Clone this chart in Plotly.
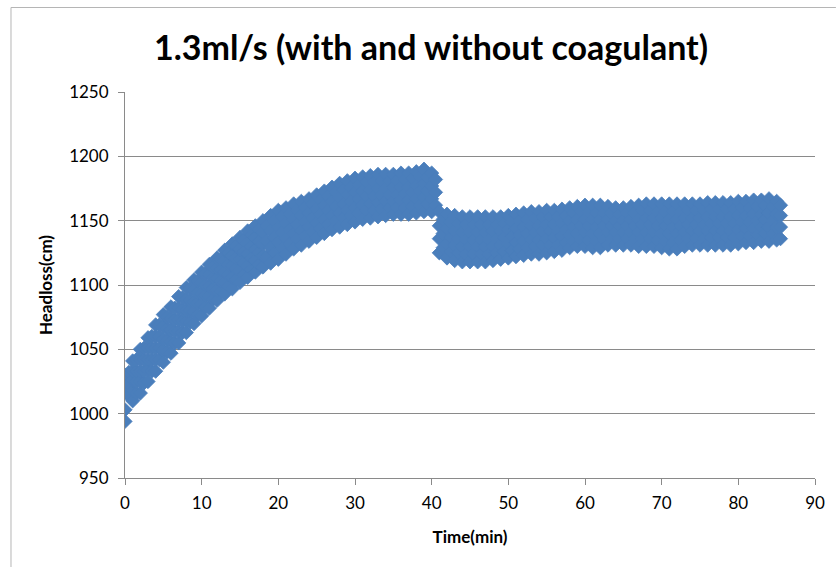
import plotly.graph_objects as go

# ---- data ----
# first part of the run (before the step change at ~40 min)
time_part1 = [0, 0.5, 1, 1.5, 2, 2.5, 3, 3.5, 4, 4.5, 5, 5.5, 6, 6.5, 7, 7.5, 8, 8.5, 9, 9.5,
              10, 10.5, 11, 11.5, 12, 12.5, 13, 13.5, 14, 14.5, 15, 15.5, 16, 16.5, 17, 17.5,
              18, 18.5, 19, 19.5, 20, 20.5, 21, 21.5, 22, 22.5, 23, 23.5, 24, 24.5, 25, 25.5,
              26, 26.5, 27, 27.5, 28, 28.5, 29, 29.5, 30, 30.5, 31, 31.5, 32, 32.5, 33, 33.5,
              34, 34.5, 35, 35.5, 36, 36.5, 37, 37.5, 38, 38.5, 39, 39.5, 40, 40.5]
headloss_part1 = [
    [994, 1003, 1017, 1030], [1014, 1023, 1032],
    [1010, 1018, 1026, 1033, 1041], [1016, 1025, 1033, 1042],
    [1016, 1025, 1033, 1042, 1050], [1024, 1033, 1042, 1051],
    [1025, 1034, 1042, 1051, 1059], [1033, 1042, 1051, 1060],
    [1033, 1042, 1051, 1060, 1069], [1042, 1051, 1060, 1069],
    [1040, 1049, 1058, 1068, 1077], [1048, 1057, 1066, 1075],
    [1047, 1056, 1065, 1074, 1083], [1055, 1064, 1073, 1082],
    [1055, 1064, 1073, 1082, 1091], [1063, 1072, 1081, 1090],
    [1063, 1072, 1080, 1089, 1098], [1071, 1080, 1088, 1097],
    [1070, 1079, 1087, 1096, 1104], [1077, 1086, 1094, 1103],
    [1076, 1085, 1093, 1102, 1110], [1083, 1092, 1100, 1109],
    [1082, 1091, 1099, 1108, 1116], [1089, 1097, 1106, 1114],
    [1088, 1096, 1105, 1113, 1121], [1095, 1103, 1112, 1120],
    [1093, 1102, 1110, 1119, 1127], [1099, 1108, 1116, 1125],
    [1097, 1106, 1115, 1123, 1132], [1104, 1113, 1121, 1130],
    [1102, 1111, 1120, 1128, 1137], [1108, 1117, 1126, 1135],
    [1106, 1115, 1124, 1133, 1142], [1112, 1121, 1130, 1139],
    [1110, 1119, 1128, 1137, 1146], [1116, 1125, 1134, 1143],
    [1114, 1123, 1132, 1141, 1150], [1122, 1134, 1146],
    [1117, 1129, 1142, 1154], [1125, 1137, 1150],
    [1120, 1133, 1145, 1158], [1128, 1141, 1153],
    [1124, 1136, 1148, 1160], [1132, 1143, 1155],
    [1128, 1140, 1151, 1163], [1136, 1147, 1158],
    [1131, 1142, 1154, 1165], [1138, 1149, 1160],
    [1134, 1145, 1156, 1167], [1141, 1152, 1163],
    [1137, 1148, 1159, 1170], [1144, 1155, 1166],
    [1140, 1151, 1162, 1173], [1147, 1158, 1169],
    [1143, 1154, 1165, 1176], [1150, 1161, 1172],
    [1145, 1156, 1168, 1179], [1152, 1163, 1174],
    [1147, 1158, 1170, 1181], [1154, 1165, 1176],
    [1149, 1160, 1172, 1183], [1156, 1167, 1178],
    [1151, 1162, 1173, 1184], [1158, 1169, 1180],
    [1152, 1163, 1174, 1185], [1158, 1169, 1180],
    [1153, 1164, 1175, 1186], [1159, 1170, 1181],
    [1154, 1165, 1175, 1186], [1160, 1170, 1181],
    [1155, 1165, 1176, 1186], [1160, 1170, 1181],
    [1155, 1166, 1176, 1187], [1160, 1171, 1182],
    [1155, 1166, 1176, 1187], [1161, 1172, 1183],
    [1156, 1167, 1177, 1188], [1162, 1173, 1184],
    [1157, 1168, 1179, 1190], [1163, 1173, 1184],
    [1157, 1167, 1177, 1187], [1162, 1172, 1182],
]

# second part of the run (after the step change)
time_part2 = [41, 41.5, 42, 42.5, 43, 43.5, 44, 44.5, 45, 45.5, 46, 46.5, 47, 47.5, 48, 48.5,
              49, 49.5, 50, 50.5, 51, 51.5, 52, 52.5, 53, 53.5, 54, 54.5, 55, 55.5, 56, 56.5,
              57, 57.5, 58, 58.5, 59, 59.5, 60, 60.5, 61, 61.5, 62, 62.5, 63, 63.5, 64, 64.5,
              65, 65.5, 66, 66.5, 67, 67.5, 68, 68.5, 69, 69.5, 70, 70.5, 71, 71.5, 72, 72.5,
              73, 73.5, 74, 74.5, 75, 75.5, 76, 76.5, 77, 77.5, 78, 78.5, 79, 79.5, 80, 80.5,
              81, 81.5, 82, 82.5, 83, 83.5, 84, 84.5, 85, 85.5]
headloss_part2 = [
    [1125, 1136, 1146, 1157], [1129, 1140, 1151],
    [1121, 1132, 1144, 1155], [1126, 1137, 1149],
    [1119, 1131, 1142, 1154], [1125, 1136, 1148],
    [1118, 1130, 1141, 1153], [1124, 1135, 1147],
    [1118, 1130, 1141, 1153], [1124, 1135, 1147],
    [1118, 1130, 1141, 1153], [1124, 1135, 1147],
    [1118, 1130, 1141, 1153], [1124, 1135, 1147],
    [1119, 1130, 1142, 1153], [1125, 1136, 1147],
    [1120, 1131, 1142, 1153], [1126, 1137, 1148],
    [1121, 1132, 1143, 1154], [1127, 1138, 1149],
    [1122, 1133, 1144, 1155], [1128, 1139, 1150],
    [1123, 1134, 1145, 1156], [1129, 1140, 1151],
    [1124, 1135, 1146, 1157], [1130, 1141, 1152],
    [1124, 1135, 1146, 1157], [1131, 1142, 1153],
    [1125, 1136, 1147, 1158], [1131, 1142, 1153],
    [1126, 1137, 1147, 1158], [1131, 1142, 1153],
    [1127, 1138, 1148, 1159], [1133, 1143, 1154],
    [1129, 1139, 1150, 1160], [1134, 1145, 1156],
    [1130, 1140, 1151, 1161], [1135, 1146, 1157],
    [1130, 1141, 1151, 1162], [1135, 1146, 1157],
    [1129, 1140, 1151, 1162], [1134, 1145, 1156],
    [1129, 1140, 1151, 1162], [1135, 1146, 1156],
    [1131, 1141, 1151, 1161], [1136, 1146, 1156],
    [1131, 1141, 1150, 1160], [1136, 1146, 1155],
    [1131, 1141, 1150, 1160], [1136, 1146, 1156],
    [1131, 1141, 1151, 1161], [1136, 1146, 1156],
    [1130, 1141, 1151, 1162], [1136, 1147, 1158],
    [1130, 1141, 1152, 1163], [1136, 1147, 1158],
    [1130, 1141, 1152, 1163], [1135, 1146, 1157],
    [1129, 1140, 1152, 1163], [1134, 1146, 1157],
    [1128, 1140, 1151, 1163], [1133, 1145, 1157],
    [1128, 1140, 1151, 1163], [1135, 1146, 1157],
    [1130, 1141, 1152, 1163], [1136, 1147, 1158],
    [1131, 1142, 1152, 1163], [1136, 1147, 1158],
    [1131, 1142, 1152, 1163], [1136, 1147, 1158],
    [1131, 1142, 1153, 1164], [1137, 1148, 1159],
    [1131, 1142, 1153, 1164], [1137, 1148, 1159],
    [1131, 1142, 1153, 1164], [1137, 1148, 1159],
    [1131, 1142, 1153, 1164], [1137, 1148, 1159],
    [1132, 1143, 1154, 1165], [1138, 1149, 1160],
    [1133, 1144, 1154, 1165], [1138, 1149, 1160],
    [1133, 1144, 1155, 1166], [1139, 1150, 1161],
    [1134, 1145, 1155, 1166], [1140, 1151, 1162],
    [1134, 1145, 1156, 1167], [1140, 1150, 1161],
    [1135, 1145, 1155, 1165], [1136, 1145, 1154, 1162],
]

x_ticks = [0, 10, 20, 30, 40, 50, 60, 70, 80, 90]
y_ticks = [950, 1000, 1050, 1100, 1150, 1200, 1250]

title_text = "1.3ml/s (with and without coagulant)"
x_title = "Time(min)"
y_title = "Headloss(cm)"

# flatten (time, readings) rows into x/y point lists
xs, ys = [], []
for times, vals in ((time_part1, headloss_part1), (time_part2, headloss_part2)):
    for t, row in zip(times, vals):
        for v in row:
            xs.append(t)
            ys.append(v)

FONT = "Lato"
GRID = "#8a8a8a"
BLUE = "#4A7EBB"

fig = go.Figure()
fig.add_trace(go.Scatter(
    x=xs, y=ys, mode="markers",
    marker=dict(symbol="diamond", size=11, color=BLUE,
                line=dict(color=BLUE, width=0.8)),
    showlegend=False, hoverinfo="x+y",
))

W, H = 837, 567
L, R, T, B = 125, 19, 92, 89
pw, ph = W - L - R, H - T - B

def px_x(px):
    return (px - L) / pw

def px_y(py):
    return (H - B - py) / ph

fig.update_layout(
    width=W, height=H,
    margin=dict(l=L, r=R, t=T, b=B),
    paper_bgcolor="white", plot_bgcolor="white",
    font=dict(family=FONT, color="#000000"),
    title=dict(text="<b>" + title_text + "</b>", x=431 / W, xanchor="center",
               y=1 - 48 / H, yanchor="middle",
               font=dict(family=FONT, size=34, color="#000000")),
    xaxis=dict(
        range=[0, 90], tickvals=x_ticks, ticktext=[str(v) for v in x_ticks],
        showgrid=False, zeroline=False,
        showline=True, linecolor=GRID, linewidth=1,
        ticks="outside", ticklen=6, tickcolor=GRID, tickwidth=1,
        tickfont=dict(family=FONT, size=17, color="#000000"),
        ticklabelstandoff=4,
        title=dict(text="<b>" + x_title + "</b>", standoff=18,
                   font=dict(family=FONT, size=17, color="#000000")),
    ),
    yaxis=dict(
        range=[950, 1250], tickvals=y_ticks, ticktext=[str(v) for v in y_ticks],
        showgrid=True, gridcolor=GRID, gridwidth=1,
        zeroline=False,
        showline=True, linecolor=GRID, linewidth=1,
        ticks="outside", ticklen=6, tickcolor=GRID, tickwidth=1,
        tickfont=dict(family=FONT, size=17, color="#000000"),
        ticklabelstandoff=6,
        title=dict(text="<b>" + y_title + "</b>", standoff=12,
                   font=dict(family=FONT, size=17, color="#000000")),
    ),
    shapes=[
        dict(type="line", xref="paper", yref="paper",
             x0=px_x(10.5), x1=px_x(10.5), y0=px_y(7.5), y1=px_y(H + 2),
             line=dict(color="#b5b5b5", width=1)),
        dict(type="line", xref="paper", yref="paper",
             x0=px_x(10.5), x1=px_x(W + 2), y0=px_y(7.5), y1=px_y(7.5),
             line=dict(color="#b5b5b5", width=1)),
    ],
)

fig.write_html("out.html",
               config={"displayModeBar": False},
               post_script="document.body.style.margin='0px';document.body.style.padding='0px';")
